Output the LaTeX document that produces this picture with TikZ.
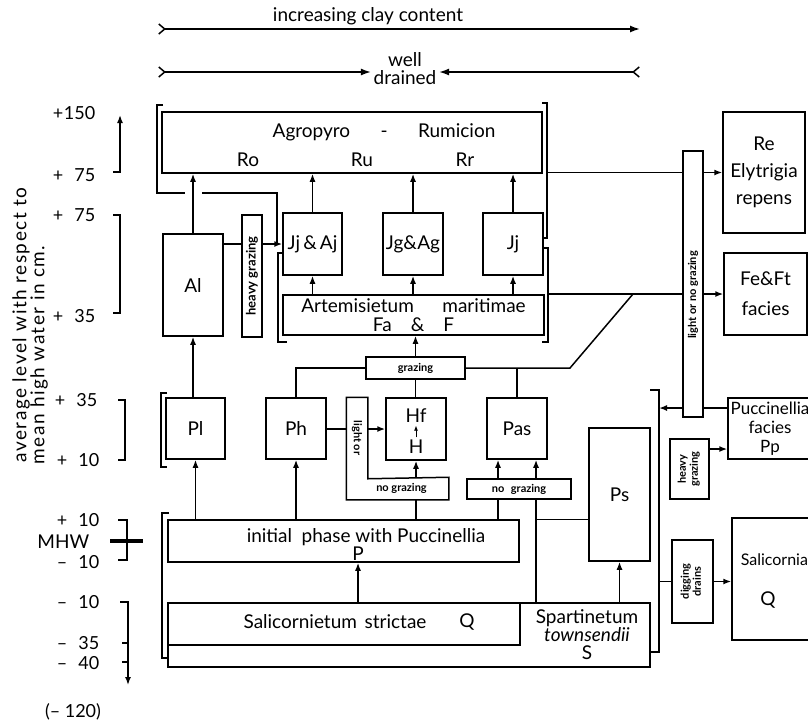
\documentclass[tikz,border=0pt]{standalone}
\usepackage{fontspec}
\setmainfont{Lato}
\usepackage{graphicx}
\usetikzlibrary{arrows.meta, positioning}
\newcommand{\vtag}[1]{\rotatebox{90}{\begin{tabular}{@{}c@{}}#1\end{tabular}}}
\newcommand{\lv}[2]{#1\makebox[16pt][r]{#2}}

\begin{document}
\begin{tikzpicture}[x=0.5pt, y=-0.5pt, line width=0.75pt,
   font=\fontsize{9.5}{11}\selectfont,
   box/.style 2 args={draw, minimum width=#1, minimum height=#2, inner sep=0pt, align=center},
   tag/.style={font=\fontsize{5.5}{6}\selectfont\bfseries},
   lvl/.style={anchor=east, inner sep=0pt, font=\fontsize{9}{10}\selectfont},
   ttl/.style={rotate=90, inner sep=0pt, font=\fontsize{9.5}{10}\selectfont\addfontfeature{LetterSpace=8}},
   arr/.style={-{Latex[length=4pt, width=3pt]}},
   axarr/.style={{Straight Barb[reversed, length=3pt, width=5pt]}-{Latex[length=5pt, width=3.5pt]}}]
  \useasboundingbox (0,0) rectangle (808,724);
  % top scales
  \node (clay) at (368,16) {increasing clay content};
  \coordinate (clayL) at (158,29);
  \coordinate (clayR) at (640,29);
  \draw[axarr] (clayL) -- (clayR);
  \node[align=center, inner sep=1pt, font=\fontsize{9.5}{9}\selectfont] (well) at (405,69) {well\\drained};
  \coordinate (wellL) at (158,72);
  \coordinate (wellR) at (640,72);
  \draw[axarr] (wellL) -- (well.west |- wellL);
  \draw[axarr] (wellR) -- (well.east |- wellR);
  % level axis
  \node[ttl] (ttlA) at (21,325) {average level with respect to};
  \node[ttl] (ttlB) at (39,355) {mean high water in cm.};
  \node[lvl] (l150) at (96,113) {\lv{+}{150}};
  \node[lvl] (l75a) at (96,175) {\lv{+}{75}};
  \node[lvl] (l75b) at (96,215) {\lv{+}{75}};
  \node[lvl] (l35a) at (96,316) {\lv{+}{35}};
  \node[lvl] (l35b) at (98,400) {\lv{+}{35}};
  \node[lvl] (l10a) at (100,460) {\lv{+}{10}};
  \node[lvl] (l10b) at (100,520) {\lv{+}{10}};
  \node[lvl, font=\fontsize{9.5}{10}\selectfont] (mhw) at (90,542) {MHW};
  \node[lvl] (m10a) at (100,562) {\lv{--}{10}};
  \node[lvl] (m10b) at (100,602) {\lv{--}{10}};
  \node[lvl] (m35) at (100,643) {\lv{--}{35}};
  \node[lvl] (m40) at (100,663) {\lv{--}{40}};
  \node[font=\fontsize{9}{10}\selectfont] (m120) at (73,712) {(-- 120)};
  \draw[arr] (113,172) -- (120,172) -- (120,115);
  \draw (113,215) -- (120,215) -- (120,313) -- (113,313);
  \draw (118,400) -- (125,400) -- (125,460) -- (118,460);
  \draw (118,520) -- (127,520) -- (127,560) -- (118,560);
  \draw[line width=2pt] (110,541) -- (143,541);
  \draw[arr] (120,602) -- (128,602) -- (128,685);
  \draw (122,643) -- (128,643);
  \draw (122,662) -- (128,662);
  % upper communities
  \node[box={190pt}{30.5pt}] (agro) at (352,142.5) {};
  \node (agroT) at (384,132) {Agropyro\hspace{1.6em}-\hspace{1.6em}Rumicion};
  \node (ro) at (248,160) {Ro};
  \node (ru) at (362,160) {Ru};
  \node (rr) at (465,160) {Rr};
  \node[box={29.5pt}{31pt}] (jjaj) at (312.5,244) {Jj\,\&\,Aj};
  \node[box={30pt}{31pt}] (jgag) at (413,244) {Jg\&Ag};
  \node[box={30pt}{31pt}] (jj) at (513,244) {Jj};
  \node[box={130.5pt}{20pt}, font=\fontsize{9.5}{9.5}\selectfont] (arte) at (413.5,315)
       {Artemisietum\hspace{1.5em}maritimae\\Fa\hspace{1em}\&\hspace{1em}F};
  \node[box={30pt}{51pt}] (al) at (193,285) {Al};
  \node[box={10pt}{61pt}, tag, font=\fontsize{6.5}{7}\selectfont\bfseries] (hgA) at (252,276) {\rotatebox{90}{heavy grazing}};
  \node[box={49.5pt}{11pt}, tag] (grz) at (415.5,368) {grazing};
  % middle communities
  \node[box={29.5pt}{30.5pt}] (pl) at (195.5,428.5) {Pl};
  \node[box={30pt}{30.5pt}] (ph) at (296,428.5) {Ph};
  \node[box={30pt}{31pt}] (hf) at (416,429) {};
  \node[inner sep=1pt] (hfU) at (416,416) {Hf};
  \node[inner sep=1pt] (hfL) at (416,447) {H};
  \node[box={30pt}{30.5pt}] (pas) at (517,428.5) {Pas};
  \coordinate (pasL) at ([xshift=-9.5pt]pas.south);
  \coordinate (pasR) at ([xshift=9.5pt]pas.south);
  \node[minimum width=10pt, minimum height=40pt, inner sep=0pt, tag] (lgt) at (357,438) {\rotatebox{-90}{light or}};
  \node[minimum width=50.5pt, minimum height=10.5pt, inner sep=0pt, tag] (ngA) at (397.5,488.5) {\hspace{4pt}no grazing};
  \draw (lgt.north west) -- (lgt.north east) -- (lgt.south east) -- (ngA.north east)
        -- (ngA.south east) -- (ngA.south west) -- cycle;
  \node[box={52pt}{10pt}, tag] (ngB) at (519,489) {no\hspace{0.6em}grazing};
  % lower communities
  \node[box={175.5pt}{21pt}] (init) at (343.5,541) {};
  \node (initT) at (366,537) {initial\hspace{0.5em}phase with Puccinellia};
  \node[inner sep=0pt] (initP) at (358,554) {P};
  \node[box={241pt}{32pt}] (marsh) at (409,635) {};
  \node[box={176pt}{21pt}] (sali) at (344,624) {};
  \node (saliT) at (335,622) {Salicornietum\hspace{0.4em}strictae};
  \node (saliQ) at (467,622) {Q};
  \node[align=center, font=\fontsize{9.5}{9}\selectfont] (spart) at (587,635) {Spartinetum\\\textit{townsendii}\\S};
  \node[box={30.5pt}{66.5pt}] (ps) at (619.5,494.5) {Ps};
  % right column
  \node[box={10pt}{133pt}, tag] (lng) at (693,284) {\rotatebox{90}{light or no grazing\hspace{11pt}}};
  \node[box={41pt}{60.5pt}, font=\fontsize{9.5}{13.5}\selectfont] (re) at (764,172.5) {Re\\Elytrigia\\repens};
  \node[box={41.5pt}{41pt}, font=\fontsize{9.5}{15}\selectfont] (fe) at (765.5,294) {Fe\&Ft\\facies};
  \node[box={42pt}{30.5pt}, font=\fontsize{8.5}{9.5}\selectfont] (pp) at (770,428.5) {Puccinellia\\facies\\Pp};
  \node[box={19.5pt}{30pt}, tag] (hgB) at (689.5,469) {\vtag{heavy\\grazing}};
  \node[box={20.5pt}{41.5pt}, tag] (dd) at (692.5,581.5) {\vtag{digging\\drains}};
  \node[box={41.5pt}{61pt}] (salq) at (773.5,579) {};
  \node[anchor=west, inner sep=0pt, font=\fontsize{8}{9}\selectfont] (salqT) at (740,560) {Salicornia};
  \node[inner sep=0pt] (salqQ) at (768,600) {Q};
  % brackets
  \draw (163,105) -- (157,105) -- (157,193) -- (185,193);
  \draw (202,193) -- (277,193) -- (277,244);
  \draw (542,103) -- (547,103) -- (547,238) -- (543,238);
  \draw (283,253) -- (278,253) -- (278,342) -- (287,342);
  \draw (543,248) -- (548,248) -- (548,342) -- (542,342);
  \draw (167,393) -- (161,393) -- (161,467) -- (167,467);
  \draw (169,513) -- (162,513) -- (162,658) -- (168,658);
  \draw (650,390) -- (659,390) -- (659,652) -- (651,652);
  % arrows into Agropyro - Rumicion
  \draw[arr] (al.north) -- (al.north |- agro.south);
  \foreach \n in {jjaj, jgag, jj} {
    \draw[arr] (\n.north) -- (\n.north |- agro.south);
    \draw[arr] (\n.south |- arte.north) -- (\n.south);
  }
  \draw (al.east |- jjaj) -- (hgA.west |- jjaj);
  \draw[arr] (hgA.east |- jjaj) -- (jjaj.west);
  % grazing junction
  \coordinate (kink) at (570,368);
  \coordinate (diag) at (633,294);
  \draw[arr] (grz.north) -- (grz.north |- arte.south);
  \draw (grz.west) -- (ph.north |- grz.west) -- (ph.north);
  \draw (grz.south) -- (grz.south |- hf.north);
  \draw (grz.east) -- (kink) -- (diag);
  \draw (pas.north) -- (pas.north |- grz.east);
  % from the initial phase upwards
  \draw[arr] (al.south |- pl.north) -- (al.south);
  \draw[arr] (pl.south |- init.north) -- (pl.south);
  \draw[arr] (ph.south |- init.north) -- (ph.south);
  \draw (ph.east |- hf) -- (lgt.west |- hf);
  \draw[arr] (lgt.east |- hf) -- (hf.west);
  \draw[-{Latex[length=2.5pt, width=2pt]}, line width=0.4pt] (hfL) -- (hfU);
  \draw[arr] (hf.south |- ngA.north) -- (hf.south);
  \draw (hf.south |- init.north) -- (hf.south |- ngA.south);
  \draw[arr] (pasL |- ngB.north) -- (pasL);
  \draw[arr] (pasR |- ngB.north) -- (pasR);
  \draw (pasL |- init.north) -- (pasL |- ngB.south);
  \draw (pasR |- ngB.south) -- (pasR |- marsh.north);
  \draw (ps.west |- init.north) -- (pasR |- init.north);
  \draw[arr] (initP |- marsh.north) -- (initP |- init.south);
  \draw[arr] (ps.south |- marsh.north) -- (ps.south);
  % right column links
  \coordinate (rbA) at (547,172.5);
  \coordinate (rbF) at (548,294);
  \coordinate (rbP) at (659,408);
  \coordinate (rbD) at (659,581.5);
  \coordinate (hgT) at ([yshift=10pt]hgB.east);
  \draw (rbA) -- (lng.west |- re);
  \draw[arr] (lng.east |- re) -- (re.west);
  \draw (rbF) -- (lng.west |- fe);
  \draw[arr] (lng.east |- fe) -- (fe.west);
  \draw (pp.west |- rbP) -- (lng.east |- rbP);
  \draw[arr] (lng.west |- rbP) -- (rbP);
  \draw[arr] (hgT) -- (hgT -| pp.west);
  \draw (rbD) -- (dd.west);
  \draw[arr] (dd.east) -- (salq.west |- dd);
\end{tikzpicture}
\end{document}
